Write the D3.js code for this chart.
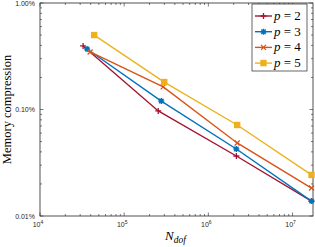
<!DOCTYPE html>
<html><head><meta charset="utf-8">
<script src="https://cdn.jsdelivr.net/npm/d3@7"></script>
<style>body{margin:0;background:#fff}svg{display:block}</style>
</head><body>
<script>
const series = ["p = 2","p = 3","p = 4","p = 5"];
const colors = ["#A2142F","#0072BD","#D95319","#EDB120"];
const markers = ["plus","star","cross","square"];
const ndof = [
  [32500, 254000, 2150000, 16800000],
  [36300, 276000, 2150000, 16800000],
  [39400, 291000, 2200000, 16800000],
  [44000, 299000, 2200000, 16800000]
];
const memory = [
  [0.395, 0.097, 0.0366, 0.0138],
  [0.370, 0.120, 0.0426, 0.0138],
  [0.347, 0.163, 0.0485, 0.0183],
  [0.500, 0.181, 0.0715, 0.0243]
];
const xTicks = [1e4,1e5,1e6,1e7];
const xTickExp = ["4","5","6","7"];
const yTicks = [0.01,0.1,1];
const yTickLabels = ["0.01%","0.10%","1.00%"];

const W=315,H=247, L=40,R=313,T=3,B=216;
const svg=d3.select("body").append("svg").attr("width",W).attr("height",H);
const x=d3.scaleLog().domain([1e4,1.75e7]).range([L,R]);
const y=d3.scaleLog().domain([0.01,1]).range([B,T]);
const axc="#262626";

// minor ticks
const xMinor=[];for(let e=4;e<=7;e++)for(let k=2;k<=9;k++){const v=k*Math.pow(10,e);if(v<=1.75e7)xMinor.push(v);}
const yMinor=[];for(let e=-2;e<=-1;e++)for(let k=2;k<=9;k++)yMinor.push(k*Math.pow(10,e));
const g=svg.append("g").attr("stroke",axc).attr("stroke-width",0.6);
xMinor.forEach(v=>{g.append("line").attr("x1",x(v)).attr("x2",x(v)).attr("y1",B).attr("y2",B-2);g.append("line").attr("x1",x(v)).attr("x2",x(v)).attr("y1",T).attr("y2",T+2);});
xTicks.forEach(v=>{g.append("line").attr("x1",x(v)).attr("x2",x(v)).attr("y1",B).attr("y2",B-3.5);g.append("line").attr("x1",x(v)).attr("x2",x(v)).attr("y1",T).attr("y2",T+3.5);});
yMinor.forEach(v=>{g.append("line").attr("y1",y(v)).attr("y2",y(v)).attr("x1",L).attr("x2",L+2);g.append("line").attr("y1",y(v)).attr("y2",y(v)).attr("x1",R).attr("x2",R-2);});
yTicks.forEach(v=>{g.append("line").attr("y1",y(v)).attr("y2",y(v)).attr("x1",L).attr("x2",L+3.5);g.append("line").attr("y1",y(v)).attr("y2",y(v)).attr("x1",R).attr("x2",R-3.5);});
svg.append("rect").attr("x",L).attr("y",T).attr("width",R-L).attr("height",B-T).attr("fill","none").attr("stroke",axc).attr("stroke-width",0.8);

// tick labels
const tf="Liberation Sans, Arial, sans-serif";
yTicks.forEach((v,i)=>svg.append("text").attr("x",L-5).attr("y",y(v)+2.5).attr("text-anchor","end").attr("font-family",tf).attr("font-size",7).attr("fill",axc).text(yTickLabels[i]));
xTicks.forEach((v,i)=>{const t=svg.append("text").attr("x",x(v)-2).attr("y",B+11).attr("text-anchor","middle").attr("font-family",tf).attr("font-size",7).attr("fill",axc);
  t.append("tspan").text("10");t.append("tspan").attr("dy",-3).attr("font-size",5).text(xTickExp[i]);});

// axis labels
svg.append("text").attr("transform",`translate(11,${(T+B)/2}) rotate(-90)`).attr("text-anchor","middle").attr("font-family","Liberation Serif, Times New Roman, serif").attr("font-size",12.5).attr("fill","#000").text("Memory compression");
const xl=svg.append("text").attr("x",165).attr("y",240).attr("font-family","Liberation Serif, Times New Roman, serif").attr("font-style","italic").attr("font-size",13).attr("fill","#000");
xl.append("tspan").text("N");xl.append("tspan").attr("dy",3).attr("font-size",9.5).text("dof");

function drawMarker(sel,type,cx,cy,c){
  if(type==="plus"){sel.append("path").attr("d",`M${cx-3},${cy}H${cx+3}M${cx},${cy-3}V${cy+3}`).attr("stroke",c).attr("stroke-width",1.3).attr("fill","none");}
  else if(type==="cross"){sel.append("path").attr("d",`M${cx-2.5},${cy-2.5}L${cx+2.5},${cy+2.5}M${cx-2.5},${cy+2.5}L${cx+2.5},${cy-2.5}`).attr("stroke",c).attr("stroke-width",1.3).attr("fill","none");}
  else if(type==="star"){sel.append("path").attr("d",`M${cx-3},${cy}H${cx+3}M${cx},${cy-3}V${cy+3}M${cx-2.2},${cy-2.2}L${cx+2.2},${cy+2.2}M${cx-2.2},${cy+2.2}L${cx+2.2},${cy-2.2}`).attr("stroke",c).attr("stroke-width",1.4).attr("fill","none");
    sel.append("circle").attr("cx",cx).attr("cy",cy).attr("r",1.8).attr("fill",c);}
  else {sel.append("rect").attr("x",cx-3.2).attr("y",cy-3.2).attr("width",6.4).attr("height",6.4).attr("fill",c);}
}

const line=d3.line().x(d=>x(d[0])).y(d=>y(d[1]));
series.forEach((s,i)=>{
  const pts=ndof[i].map((v,j)=>[v,memory[i][j]]);
  const gg=svg.append("g");
  gg.append("path").attr("d",line(pts)).attr("fill","none").attr("stroke",colors[i]).attr("stroke-width",1.4);
  pts.forEach(p=>drawMarker(gg,markers[i],x(p[0]),y(p[1]),colors[i]));
});

// legend
const lx=252,ly=4,lw=55,lh=67;
svg.append("rect").attr("x",lx).attr("y",ly).attr("width",lw).attr("height",lh).attr("fill","#fff").attr("stroke",axc).attr("stroke-width",0.7);
series.forEach((s,i)=>{
  const yy=ly+12+i*15.7;
  const gg=svg.append("g");
  gg.append("line").attr("x1",lx+3).attr("x2",lx+20).attr("y1",yy).attr("y2",yy).attr("stroke",colors[i]).attr("stroke-width",1.4);
  drawMarker(gg,markers[i],lx+11.5,yy,colors[i]);
  const t=svg.append("text").attr("x",lx+22).attr("y",yy+4).attr("font-family","Liberation Serif, Times New Roman, serif").attr("font-size",13).attr("fill","#000");
  t.append("tspan").attr("font-style","italic").text("p");
  t.append("tspan").text(" = "+s.split("= ")[1]);
});
</script>
</body></html>
